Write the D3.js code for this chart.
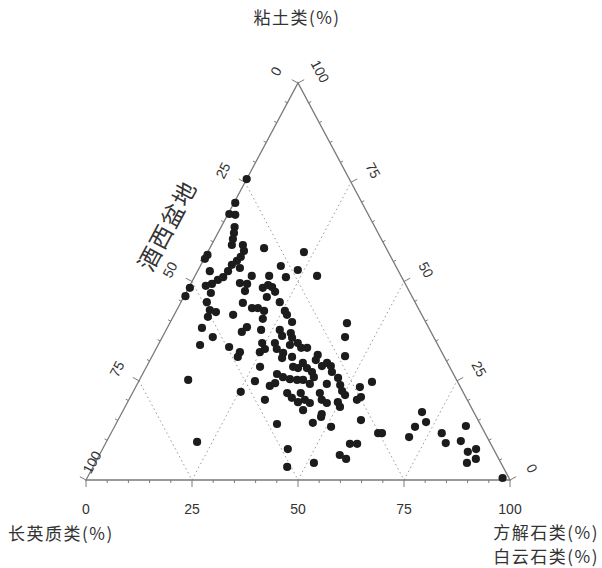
<!DOCTYPE html>
<html>
<head>
<meta charset="utf-8">
<script src="https://cdn.jsdelivr.net/npm/d3@7"></script>
<style>
  body { margin: 0; background: #fff; }
  text { font-family: "Liberation Sans", Arial, sans-serif; fill: #333; }
  .cjk { font-family: "Noto Sans CJK SC", sans-serif; letter-spacing: 1.5px; }
</style>
</head>
<body>
<div id="chart"></div>
<script>
// setting up constants
const FRAME_WIDTH = 602;
const FRAME_HEIGHT = 568;

// data: clay % and carbonate % for each sample (feldspar+quartz = the rest)
const clay = [75.8, 69.8, 67.0, 66.8, 63.7, 62.2, 60.7, 59.2, 59.2, 57.7,
  56.2, 58.4, 56.7, 55.7, 57.4, 53.9, 52.9, 51.4, 51.1, 55.2,
  54.2, 52.6, 53.4, 52.6, 51.1, 50.4, 49.4, 48.4, 46.3, 51.4,
  51.4, 49.4, 49.6, 48.4, 49.1, 48.6, 47.4, 48.9, 47.1, 46.1,
  47.6, 44.8, 44.6, 44.8, 42.8, 42.3, 41.1, 41.6, 43.3, 43.3,
  42.6, 42.6, 41.6, 40.6, 39.8, 39.5, 38.3, 36.0, 37.3, 38.5,
  37.8, 37.8, 36.3, 37.0, 36.0, 34.0, 33.5, 32.2, 31.0, 34.5,
  32.2, 33.0, 34.5, 33.0, 32.0, 30.7, 35.8, 34.0, 34.5, 33.3,
  31.0, 33.3, 31.2, 28.5, 31.5, 30.2, 28.7, 29.5, 28.7, 27.2,
  28.5, 28.2, 29.5, 28.2, 26.7, 25.9, 25.4, 25.2, 25.2, 27.2,
  25.9, 25.2, 24.9, 23.7, 24.4, 24.2, 25.7, 23.9, 22.4, 21.4,
  24.2, 23.4, 20.2, 20.9, 24.7, 20.2, 21.9, 20.7, 21.9, 19.6,
  20.2, 19.4, 21.9, 20.2, 19.4, 19.6, 18.4, 17.6, 16.6, 22.2,
  15.1, 14.1, 14.4, 15.9, 13.4, 9.6, 7.8, 3.3, 4.3, 9.1,
  9.1, 6.3, 5.3, 11.8, 11.8, 17.1, 14.6, 13.4, 10.8, 11.8,
  9.3, 13.6, 9.8, 7.1, 7.8, 5.3, 4.3, 0.5];
const carbonate = [0, 0.3, 0.3, 1.8, 3.2, 3.8, 4.3, 4.8, 7.4, 8.4,
  8.4, 12.8, 0.3, 0.2, 22.7, 19.0, 23.5, 28.8, 21.6, 8.0,
  7.3, 7.2, 9.6, 2.9, 6.8, 5.9, 5.0, 0.3, 0.3, 13.4,
  17.5, 13.3, 11.5, 17.5, 18.4, 19.6, 20.9, 3.8, 5.9, 19.6,
  13.7, 6.1, 14.7, 23.3, 7.8, 9.5, 8.2, 13.9, 17.5, 18.9,
  20.7, 25.6, 26.6, 21.4, 28.7, 41.8, 8.2, 11.9, 18.1, 18.7,
  22.4, 26.8, 28.1, 29.8, 43.1, 9.9, 17.0, 20.2, 20.3, 24.3,
  24.9, 25.7, 27.3, 28.5, 30.5, 30.9, 30.7, 31.1, 32.7, 34.1,
  33.1, 35.5, 45.5, 26.8, 38.9, 39.1, 41.3, 42.1, 43.4, 44.4,
  34.6, 35.9, 36.4, 38.0, 31.7, 33.5, 35.4, 37.2, 38.6, 39.7,
  40.8, 11.5, 27.4, 31.5, 32.4, 40.7, 46.6, 48.0, 49.2, 50.4,
  44.7, 52.9, 53.8, 54.4, 55.1, 32.1, 36.5, 38.2, 39.7, 40.2,
  41.5, 43.1, 44.2, 45.5, 47.1, 49.6, 50.7, 42.4, 47.3, 25.4,
  57.3, 38.0, 46.3, 47.5, 51.1, 21.4, 43.7, 45.8, 51.6, 57.7,
  59.4, 56.7, 58.7, 63.0, 63.9, 70.7, 72.9, 70.9, 70.8, 78.0,
  80.2, 82.8, 83.5, 86.5, 88.1, 89.3, 87.7, 98.0];

const majorTicks = [0, 25, 50, 75, 100];
const gridValues = [25, 50, 75];

// scales: x runs along the base, y is clay height
const xScale = d3.scaleLinear().domain([0, 100]).range([86, 510]);
const yScale = d3.scaleLinear().domain([0, 100]).range([480, 83]);

// ternary -> screen
function proj(cl, ca) {
    return [xScale(ca + cl / 2), yScale(cl)];
}

const svg = d3.select('#chart')
    .append('svg')
        .attr('width', FRAME_WIDTH)
        .attr('height', FRAME_HEIGHT);

// outward normals of the three edges
const edgeLen = Math.hypot(xScale(50) - xScale(0), yScale(100) - yScale(0));
const nx = (yScale(0) - yScale(100)) / edgeLen;
const ny = (xScale(50) - xScale(0)) / edgeLen;
const LEFT_N = [-nx, -ny];
const RIGHT_N = [nx, -ny];
const BOTTOM_N = [0, 1];
const edgeAngle = Math.atan2(yScale(0) - yScale(100), xScale(50) - xScale(0)) * 180 / Math.PI;

// dotted grid lines
const grid = svg.append('g')
    .attr('stroke', '#9a9a9a')
    .attr('stroke-width', 1)
    .attr('stroke-dasharray', '1.5,3')
    .attr('fill', 'none');
gridValues.forEach(function (v) {
    // constant feldspar
    let a = proj(100 - v, 0), b = proj(0, 100 - v);
    grid.append('line').attr('x1', a[0]).attr('y1', a[1]).attr('x2', b[0]).attr('y2', b[1]);
    // constant carbonate
    a = proj(0, v); b = proj(100 - v, v);
    grid.append('line').attr('x1', a[0]).attr('y1', a[1]).attr('x2', b[0]).attr('y2', b[1]);
});

// triangle
const corners = [proj(0, 0), proj(0, 100), proj(100, 0)];
svg.append('path')
    .attr('d', d3.line()(corners) + 'Z')
    .attr('fill', 'none')
    .attr('stroke', '#7a7a7a')
    .attr('stroke-width', 1.3);

// ticks + labels for one edge
function drawEdge(pointAt, normal, labelOffset, rotate, shift) {
    const g = svg.append('g');
    d3.range(0, 101, 5).forEach(function (v) {
        const p = pointAt(v);
        const len = v % 25 === 0 ? 7 : 3;
        g.append('line')
            .attr('x1', p[0]).attr('y1', p[1])
            .attr('x2', p[0] + normal[0] * len).attr('y2', p[1] + normal[1] * len)
            .attr('stroke', '#7a7a7a')
            .attr('stroke-width', 1);
    });
    majorTicks.forEach(function (v) {
        const p = pointAt(v);
        let lx = p[0] + normal[0] * labelOffset;
        let ly = p[1] + normal[1] * labelOffset;
        if (shift && shift[v]) { lx += shift[v][0]; ly += shift[v][1]; }
        g.append('text')
            .attr('transform', 'translate(' + lx + ',' + ly + ') rotate(' + rotate + ')')
            .attr('text-anchor', 'middle')
            .attr('dominant-baseline', 'central')
            .attr('font-size', 14)
            .text(v);
    });
}

// bottom: carbonate
drawEdge(function (v) { return proj(0, v); }, BOTTOM_N, 29, 0);
// left: feldspar, 0 at apex (the 100 label sits just above the corner)
drawEdge(function (v) { return proj(100 - v, 0); }, LEFT_N, 25, -edgeAngle, {100: [28, -6]});
// right: clay, 0 at right corner
drawEdge(function (v) { return proj(v, 100 - v); }, RIGHT_N, 25, edgeAngle);

// points
svg.append('g')
    .selectAll('circle')
    .data(clay.map(function (c, i) { return [c, carbonate[i]]; }))
    .enter()
    .append('circle')
        .attr('cx', function (d) { return proj(d[0], d[1])[0]; })
        .attr('cy', function (d) { return proj(d[0], d[1])[1]; })
        .attr('r', 4.1)
        .attr('fill', '#1c1c1c');

// titles
svg.append('text').attr('class', 'cjk')
    .attr('x', 297).attr('y', 24).attr('text-anchor', 'middle')
    .attr('font-size', 17).text('粘土类(%)');
svg.append('text').attr('class', 'cjk')
    .attr('x', 8).attr('y', 540).attr('text-anchor', 'start')
    .attr('font-size', 17).text('长英质类(%)');
svg.append('text').attr('class', 'cjk')
    .attr('x', 599).attr('y', 539).attr('text-anchor', 'end')
    .attr('font-size', 17).text('方解石类(%)');
svg.append('text').attr('class', 'cjk')
    .attr('x', 599).attr('y', 563).attr('text-anchor', 'end')
    .attr('font-size', 17).text('白云石类(%)');
svg.append('text').attr('class', 'cjk')
    .attr('transform', 'translate(166,225) rotate(' + (-edgeAngle) + ')')
    .attr('text-anchor', 'middle')
    .attr('dominant-baseline', 'central')
    .attr('font-size', 23)
    .text('酒西盆地');
</script>
</body>
</html>
